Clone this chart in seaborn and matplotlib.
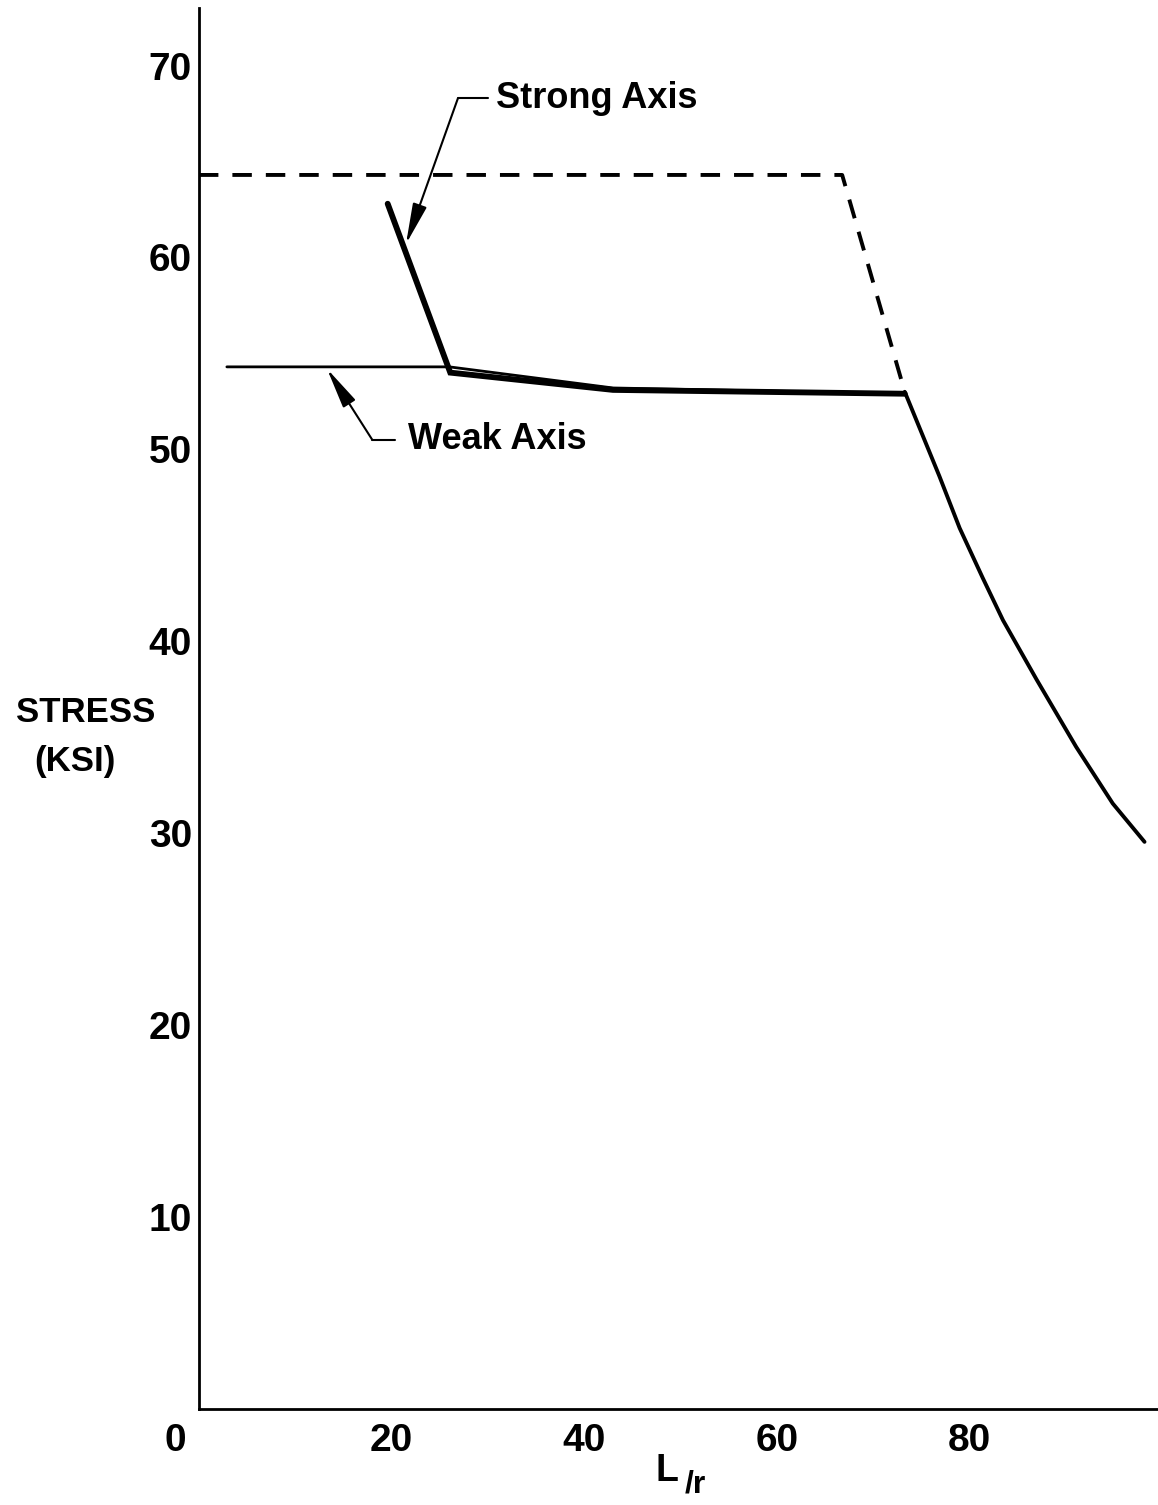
import matplotlib
matplotlib.use("Agg")
import matplotlib.pyplot as plt
import seaborn as sns
import pandas as pd

# Column strength curves: stress (ksi) against slenderness L/r
dashed_x = [0.0, 66.8, 73.3]
dashed_y = [64.3, 64.3, 53.0]

strong_x = [19.6, 26.1, 43.0, 73.3]
strong_y = [62.8, 54.0, 53.1, 52.9]

weak_x = [2.9, 26.0, 43.0, 73.3]
weak_y = [54.3, 54.3, 53.2, 52.9]

tail_x = [73.3, 76.9, 79.0, 81.4, 83.5, 87.0, 91.1, 94.9, 98.2]
tail_y = [53.0, 48.6, 45.9, 43.3, 41.1, 38.0, 34.5, 31.55, 29.55]

x_ticks = [20, 40, 60, 80]
y_ticks = [10, 20, 30, 40, 50, 60, 70]

sns.set_style("white")
plt.rcParams["font.family"] = ["Liberation Sans", "DejaVu Sans"]

fig = plt.figure(figsize=(11.58, 15.05), dpi=100)
ax = fig.add_axes([0.1718, 0.0638, 0.8282, 0.9309])

ink = "black"
sns.lineplot(data=pd.DataFrame({"x": dashed_x, "y": dashed_y}), x="x", y="y",
             sort=False, ax=ax, color=ink, lw=2.8, dashes=False,
             linestyle=(0, (5, 3.6)))
sns.lineplot(data=pd.DataFrame({"x": weak_x, "y": weak_y}), x="x", y="y",
             sort=False, ax=ax, color=ink, lw=2.0)
sns.lineplot(data=pd.DataFrame({"x": strong_x, "y": strong_y}), x="x", y="y",
             sort=False, ax=ax, color=ink, lw=4.2, solid_joinstyle="miter")
sns.lineplot(data=pd.DataFrame({"x": tail_x, "y": tail_y}), x="x", y="y",
             sort=False, ax=ax, color=ink, lw=2.8, solid_joinstyle="round")

ax.set_xlim(0, 99.6)
ax.set_ylim(0, 73.0)

for side in ["top", "right"]:
    ax.spines[side].set_visible(False)
for side in ["left", "bottom"]:
    ax.spines[side].set_linewidth(2.0)
    ax.spines[side].set_color(ink)

label_font = dict(fontsize=28, fontweight="bold", color=ink)
ax.set_xticks(x_ticks)
ax.set_yticks(y_ticks)
ax.set_xticklabels([str(v) for v in x_ticks], **label_font)
ax.set_yticklabels([str(v) for v in y_ticks], **label_font)
ax.tick_params(axis="both", direction="in", length=17, width=2.0, color=ink)
ax.tick_params(axis="x", pad=10)
ax.tick_params(axis="y", pad=5)
ax.set_xlabel("")
ax.set_ylabel("")

# origin label sits just left of the corner
ax.text(-2.5, -1.65, "0", ha="center", va="center", clip_on=False, **label_font)

# axis titles
title_font = dict(fontsize=25, fontweight="bold", color=ink)
ax.text(-11.8, 36.3, "STRESS", ha="center", va="center", clip_on=False, **title_font)
ax.text(-12.9, 33.75, "(KSI)", ha="center", va="center", clip_on=False, **title_font)
ax.text(48.6, -3.23, "L", ha="center", va="center", clip_on=False,
        fontsize=27, fontweight="bold", color=ink)
ax.text(51.5, -3.95, "/r", ha="center", va="center", clip_on=False,
        fontsize=23, fontweight="bold", color=ink)

# leader lines with arrowheads
arrow = dict(arrowstyle="-|>,head_length=1.25,head_width=0.22", color=ink,
             lw=1.5, shrinkA=0, shrinkB=0, mutation_scale=20)

ax.plot([26.9, 30.0], [68.3, 68.3], color=ink, lw=1.5)
ax.annotate("", xy=(21.5, 60.7), xytext=(26.9, 68.3), arrowprops=arrow)
ax.text(30.9, 68.3, "Strong Axis", ha="left", va="center",
        fontsize=26, fontweight="bold", color=ink)

ax.plot([18.0, 20.4], [50.5, 50.5], color=ink, lw=1.5)
ax.annotate("", xy=(13.3, 54.2), xytext=(18.0, 50.5), arrowprops=arrow)
ax.text(21.7, 50.5, "Weak Axis", ha="left", va="center",
        fontsize=26, fontweight="bold", color=ink)

fig.savefig("out.png", dpi=100, facecolor="white")
